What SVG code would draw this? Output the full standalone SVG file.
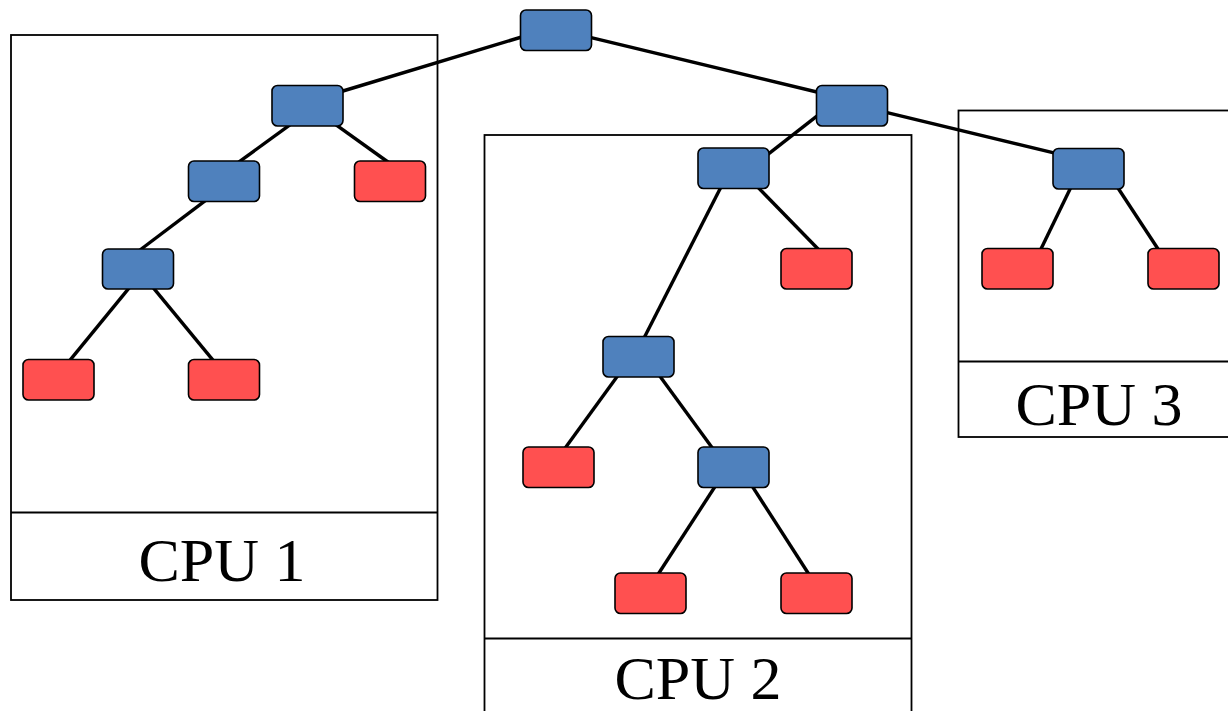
<svg xmlns="http://www.w3.org/2000/svg" width="1228" height="711" viewBox="0 0 1228 711">
<style>
.cpu{fill:none;stroke:#000;stroke-width:1.8}
.lbl{font-family:"Liberation Serif","Times New Roman",serif;font-size:62px;fill:#000;text-anchor:middle}
.e{stroke:#000;stroke-width:3.4;fill:none;stroke-linecap:butt}
.n{stroke:#000;stroke-width:1.6}
.b{fill:#4F81BD}
.r{fill:#FF5050}
</style>
<rect width="1228" height="711" fill="#fff"/>
<g id="cpu1">
<rect class="cpu" x="11" y="35" width="426.5" height="565"/>
<line class="cpu" x1="11" y1="512.5" x2="437.5" y2="512.5"/>
<text class="lbl" x="222" y="581">CPU 1</text>
</g>
<g id="cpu2">
<rect class="cpu" x="484.5" y="135" width="427" height="590"/>
<line class="cpu" x1="484.5" y1="638.5" x2="911.5" y2="638.5"/>
<text class="lbl" x="698" y="699">CPU 2</text>
</g>
<g id="cpu3">
<rect class="cpu" x="958.5" y="110.5" width="282" height="326.5"/>
<line class="cpu" x1="958.5" y1="361.5" x2="1240" y2="361.5"/>
<text class="lbl" x="1099" y="425">CPU 3</text>
</g>
<g id="edges">
<line class="e" x1="525" y1="36" x2="338" y2="92.5"/>
<line class="e" x1="586" y1="36.4" x2="821" y2="93"/>
<line class="e" x1="821" y1="112.8" x2="765" y2="156.6"/>
<line class="e" x1="883" y1="111.6" x2="1058" y2="153.9"/>
<line class="e" x1="292" y1="123.3" x2="237" y2="163.4"/>
<line class="e" x1="334" y1="123.3" x2="390" y2="163.5"/>
<line class="e" x1="208" y1="198.7" x2="138" y2="251.5"/>
<line class="e" x1="131" y1="285.6" x2="68" y2="362.6"/>
<line class="e" x1="151.5" y1="285.6" x2="215" y2="362.6"/>
<line class="e" x1="722" y1="185" x2="643" y2="340"/>
<line class="e" x1="756" y1="185.4" x2="821" y2="252"/>
<line class="e" x1="619" y1="374" x2="563" y2="451"/>
<line class="e" x1="658.3" y1="374" x2="714" y2="450.3"/>
<line class="e" x1="716.5" y1="484.3" x2="657" y2="576"/>
<line class="e" x1="751" y1="484.3" x2="810" y2="576"/>
<line class="e" x1="1072" y1="185" x2="1039.5" y2="252"/>
<line class="e" x1="1115.5" y1="184.3" x2="1160" y2="252"/>
</g>
<g id="root"><rect class="n b" x="520.5" y="10" width="71" height="40.5" rx="5.5"/></g>
<g id="n_g"><rect class="n b" x="816.5" y="85.5" width="71" height="40.5" rx="5.5"/></g>
<g id="n_a"><rect class="n b" x="272" y="85.5" width="71" height="40.5" rx="5.5"/></g>
<g id="n_b"><rect class="n b" x="188.5" y="161" width="71" height="40.5" rx="5.5"/></g>
<g id="n_r1"><rect class="n r" x="354.5" y="161" width="71" height="40.5" rx="5.5"/></g>
<g id="n_c"><rect class="n b" x="102.5" y="249" width="71" height="40" rx="5.5"/></g>
<g id="n_r2"><rect class="n r" x="23" y="359.5" width="71" height="40.5" rx="5.5"/></g>
<g id="n_r3"><rect class="n r" x="188.5" y="359.5" width="71" height="40.5" rx="5.5"/></g>
<g id="n_f"><rect class="n b" x="698" y="148" width="71" height="40.5" rx="5.5"/></g>
<g id="n_r7"><rect class="n r" x="781" y="248.5" width="71" height="40.5" rx="5.5"/></g>
<g id="n_d"><rect class="n b" x="603" y="336.5" width="71" height="40.5" rx="5.5"/></g>
<g id="n_r4"><rect class="n r" x="523" y="447" width="71" height="40.5" rx="5.5"/></g>
<g id="n_e"><rect class="n b" x="698" y="447" width="71" height="40.5" rx="5.5"/></g>
<g id="n_r5"><rect class="n r" x="615" y="573" width="71" height="40.5" rx="5.5"/></g>
<g id="n_r6"><rect class="n r" x="781" y="573" width="71" height="40.5" rx="5.5"/></g>
<g id="n_h"><rect class="n b" x="1053" y="148.5" width="71" height="40.5" rx="5.5"/></g>
<g id="n_r8"><rect class="n r" x="982" y="248.5" width="71" height="40.5" rx="5.5"/></g>
<g id="n_r9"><rect class="n r" x="1148" y="248.5" width="71" height="40.5" rx="5.5"/></g>
</svg>
